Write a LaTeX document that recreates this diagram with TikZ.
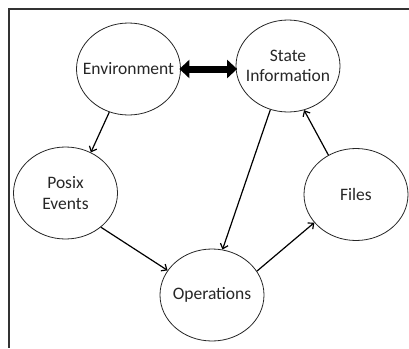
\documentclass[tikz,border=0pt]{standalone}
\usepackage{fontspec}
\setmainfont{Carlito}
\usetikzlibrary{shapes.geometric,arrows.meta}
\begin{document}
\begin{tikzpicture}[x=1pt,y=-1pt,
  bubble/.style={draw=black!85,line width=0.8pt,ellipse,minimum width=104pt,minimum height=92pt,
    inner xsep=-12pt,inner ysep=0pt,align=center,text=black!85,font=\fontsize{17.5}{20.5}\selectfont},
  flow/.style={line width=1.2pt,-{Straight Barb[length=4.5pt,width=8pt]}},
  twoway/.style={line width=7pt,{Triangle[length=10pt,width=18pt]}-{Triangle[length=10pt,width=18pt]},
    shorten <=-1.5pt,shorten >=-1.5pt}]
  \useasboundingbox (0,0) rectangle (409,348);
  % page frame: top and left rules only
  \draw[line width=1.2pt,black!80] (409,9) -- (9,9) -- (9,348);

  \node[bubble] (env)   at (128.5,69)  {Environment};
  \node[bubble] (state) at (288,66)    {State\\Information};
  \node[bubble] (posix) at (65.5,193)  {Posix\\Events};
  \node[bubble] (files) at (356,194.5) {Files};
  \node[bubble] (ops)   at (212,295)   {Operations};

  \draw[twoway] (env.east) -- (env.east -| state.west);
  \draw[flow] (env.246) -- (posix.58);
  \draw[flow] (state.248) -- (ops.77);
  \draw[flow] (files.125) -- (state.290);
  \draw[flow] (posix.316) -- (ops.151);
  \draw[flow] (ops.28) -- (files.214);
\end{tikzpicture}
\end{document}
